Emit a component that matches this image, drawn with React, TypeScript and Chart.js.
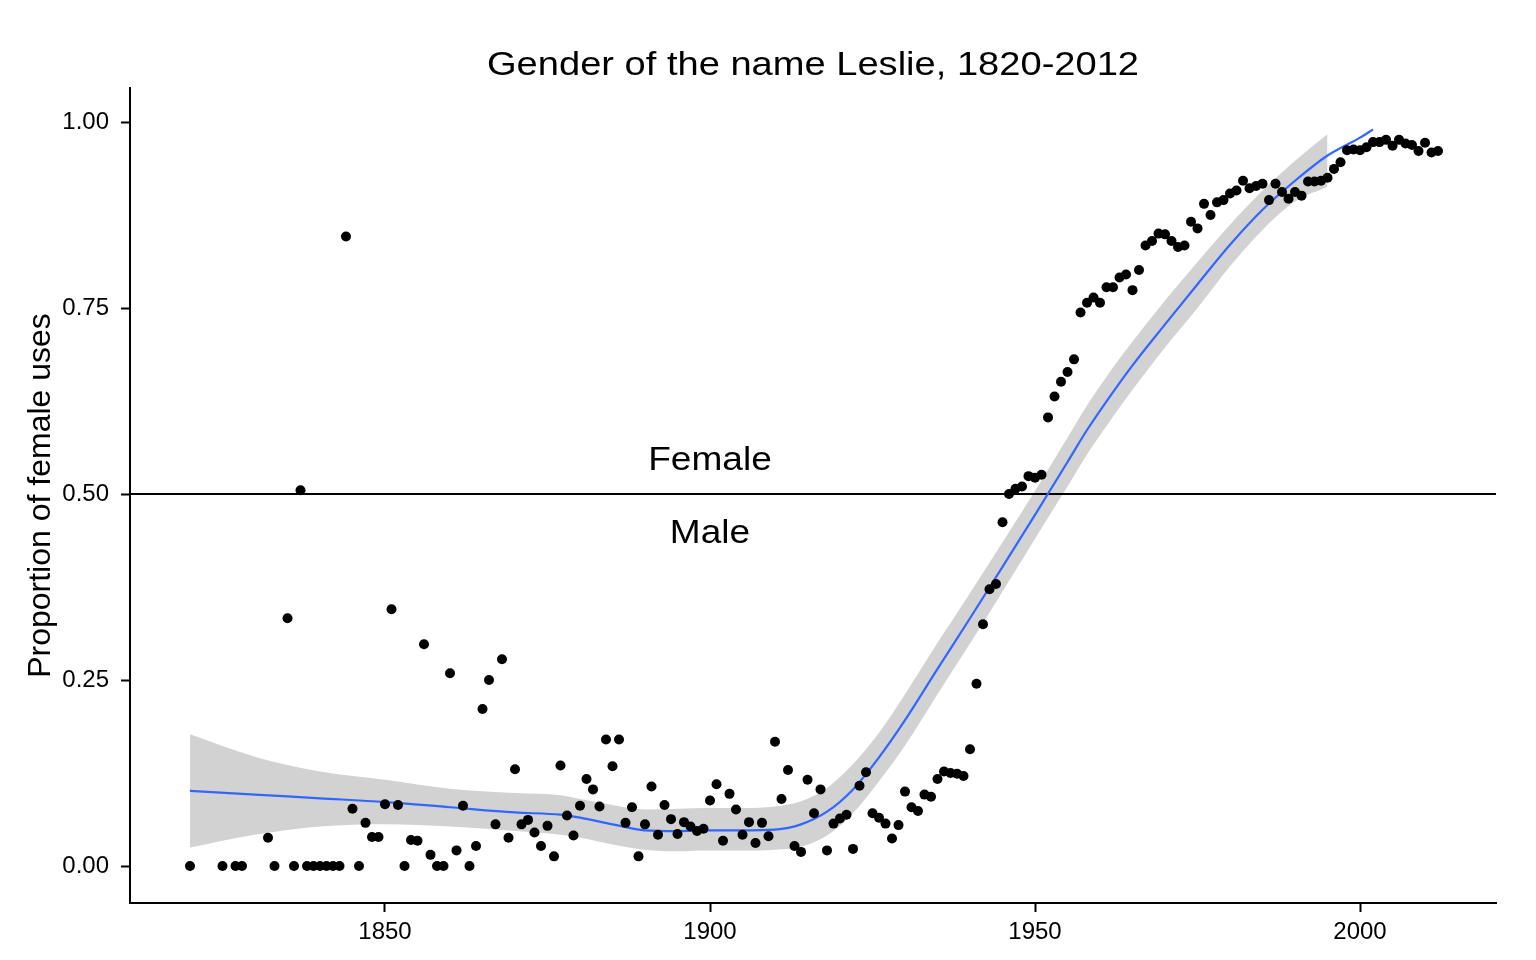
import React, { useEffect, useRef } from "react";
import { Chart, registerables } from "chart.js";

Chart.register(...registerables);

const FONT = '"Liberation Sans", Arial, Helvetica, sans-serif';

const TITLE = "Gender of the name Leslie, 1820-2012";
const Y_LABEL = "Proportion of female uses";

const years = [
  1820, 1825, 1827, 1828, 1832, 1833, 1835, 1836, 1837, 1838, 1839, 1840, 1841, 1842, 1843, 1844, 1845, 1846, 1847, 1848, 1849,
  1850, 1851, 1852, 1853, 1854, 1855, 1856, 1857, 1858, 1859, 1860, 1861, 1862, 1863, 1864, 1865, 1866, 1867, 1868, 1869,
  1870, 1871, 1872, 1873, 1874, 1875, 1876, 1877, 1878, 1879, 1880, 1881, 1882, 1883, 1884, 1885, 1886, 1887, 1888, 1889,
  1890, 1891, 1892, 1893, 1894, 1895, 1896, 1897, 1898, 1899, 1900, 1901, 1902, 1903, 1904, 1905, 1906, 1907, 1908, 1909,
  1910, 1911, 1912, 1913, 1914, 1915, 1916, 1917, 1918, 1919, 1920, 1921, 1922, 1923, 1924, 1925, 1926, 1927, 1928, 1929,
  1930, 1931, 1932, 1933, 1934, 1935, 1936, 1937, 1938, 1939, 1940, 1941, 1942, 1943, 1944, 1945, 1946, 1947, 1948, 1949,
  1950, 1951, 1952, 1953, 1954, 1955, 1956, 1957, 1958, 1959, 1960, 1961, 1962, 1963, 1964, 1965, 1966, 1967, 1968, 1969,
  1970, 1971, 1972, 1973, 1974, 1975, 1976, 1977, 1978, 1979, 1980, 1981, 1982, 1983, 1984, 1985, 1986, 1987, 1988, 1989,
  1990, 1991, 1992, 1993, 1994, 1995, 1996, 1997, 1998, 1999, 2000, 2001, 2002, 2003, 2004, 2005, 2006, 2007, 2008, 2009,
  2010, 2011, 2012,
];

const femaleShare = [
  0, 0, 0, 0, 0.038, 0, 0.333, 0, 0.505, 0, 0, 0, 0, 0, 0, 0.846, 0.077, 0, 0.058, 0.039, 0.039,
  0.083, 0.345, 0.082, 0, 0.035, 0.034, 0.298, 0.015, 0, 0, 0.259, 0.021, 0.081, 0, 0.027, 0.211, 0.25, 0.056, 0.278, 0.038,
  0.13, 0.056, 0.062, 0.045, 0.027, 0.054, 0.013, 0.135, 0.068, 0.041, 0.081, 0.117, 0.103, 0.08, 0.17, 0.134, 0.17, 0.058, 0.079, 0.013,
  0.056, 0.107, 0.042, 0.082, 0.063, 0.043, 0.059, 0.053, 0.047, 0.05, 0.088, 0.11, 0.034, 0.097, 0.076, 0.042, 0.059, 0.031, 0.058, 0.04,
  0.167, 0.09, 0.129, 0.027, 0.019, 0.116, 0.071, 0.103, 0.021, 0.057, 0.064, 0.069, 0.023, 0.108, 0.126, 0.071, 0.065, 0.057, 0.037, 0.055,
  0.1, 0.079, 0.074, 0.096, 0.093, 0.117, 0.127, 0.125, 0.124, 0.121, 0.157, 0.245, 0.325, 0.372, 0.379, 0.462, 0.5, 0.507, 0.51, 0.524,
  0.522, 0.526, 0.603, 0.631, 0.651, 0.664, 0.681, 0.744, 0.757, 0.764, 0.757, 0.778, 0.778, 0.791, 0.795, 0.774, 0.801, 0.834, 0.84, 0.85,
  0.849, 0.84, 0.832, 0.834, 0.866, 0.857, 0.89, 0.875, 0.892, 0.895, 0.904, 0.908, 0.921, 0.911, 0.914, 0.917, 0.895, 0.917, 0.906, 0.897,
  0.906, 0.901, 0.92, 0.92, 0.921, 0.925, 0.937, 0.946, 0.962, 0.963, 0.962, 0.966, 0.973, 0.973, 0.976, 0.968, 0.976, 0.971, 0.969, 0.961,
  0.972, 0.959, 0.961,
];

// loess smooth (fitted line)
const smoothYears = [
  1820, 1830, 1840, 1850, 1860, 1870, 1877, 1880, 1885, 1890, 1895, 1900, 1905, 1910, 1914, 1918, 1922, 1926,
  1930, 1935, 1940, 1945, 1950, 1955, 1958, 1962, 1965, 1970, 1975, 1980, 1985, 1990, 1995, 2000, 2002,
];
const smoothFit = [
  0.101, 0.096, 0.091, 0.086, 0.079, 0.072, 0.069, 0.065, 0.056, 0.048, 0.047, 0.048, 0.048, 0.049, 0.056, 0.073, 0.103, 0.146,
  0.196, 0.265, 0.333, 0.402, 0.472, 0.543, 0.586, 0.637, 0.673, 0.728, 0.782, 0.835, 0.882, 0.921, 0.955, 0.979, 0.99,
];

// confidence band
const bandYears = [
  1820, 1830, 1840, 1850, 1860, 1870, 1877, 1880, 1885, 1890, 1895, 1900, 1905, 1910, 1914, 1918, 1922, 1926,
  1930, 1935, 1940, 1945, 1950, 1955, 1958, 1962, 1965, 1970, 1975, 1980, 1985, 1990, 1995,
];
const bandUpper = [
  0.177, 0.147, 0.127, 0.116, 0.104, 0.098, 0.095, 0.09, 0.082, 0.076, 0.077, 0.078, 0.078, 0.08, 0.087, 0.105, 0.137, 0.179,
  0.231, 0.3, 0.367, 0.435, 0.504, 0.576, 0.619, 0.67, 0.705, 0.76, 0.812, 0.862, 0.908, 0.948, 0.984,
];
const bandLower = [
  0.025, 0.042, 0.053, 0.056, 0.053, 0.047, 0.042, 0.038, 0.029, 0.022, 0.02, 0.021, 0.021, 0.022, 0.026, 0.041, 0.071, 0.114,
  0.162, 0.231, 0.299, 0.369, 0.44, 0.51, 0.553, 0.604, 0.64, 0.697, 0.75, 0.806, 0.855, 0.893, 0.913,
];

const xTicks = [1850, 1900, 1950, 2000];
const yTicks = [0, 0.25, 0.5, 0.75, 1.0];
const xRange = [1810.77, 2020.92];
const yRange = [-0.0497, 1.0457];

const referenceLevel = 0.5;
const annotationLabels = ["Female", "Male"];
const annotationX = [1900, 1900];
const annotationY = [0.548, 0.45];

const zip = (xs: number[], ys: number[]) => xs.map((x, i) => ({ x, y: ys[i] }));

function stretchedText(ctx: CanvasRenderingContext2D, text: string, x: number, y: number, sx: number) {
  ctx.save();
  ctx.translate(x, y);
  ctx.scale(sx, 1);
  ctx.fillText(text, 0, 0);
  ctx.restore();
}

const textPlugin = {
  id: "textPlugin",
  afterDraw(chart: any) {
    const { ctx, chartArea, scales } = chart;
    ctx.save();
    ctx.fillStyle = "#000";
    ctx.textAlign = "center";
    ctx.textBaseline = "alphabetic";
    ctx.font = `34px ${FONT}`;
    stretchedText(ctx, TITLE, (chartArea.left + chartArea.right) / 2, 75, 1.12);
    annotationLabels.forEach((label, i) => {
      const px = scales.x.getPixelForValue(annotationX[i]);
      const py = scales.y.getPixelForValue(annotationY[i]);
      stretchedText(ctx, label, px, py + 0.358 * 34, 1.09);
    });
    ctx.restore();
  },
};

export default function App() {
  const canvasRef = useRef<HTMLCanvasElement | null>(null);

  useEffect(() => {
    const canvas = canvasRef.current;
    if (!canvas) return;
    const chart = new Chart(canvas, {
      type: "line",
      data: {
        datasets: [
          {
            label: "points",
            data: zip(years, femaleShare),
            showLine: false,
            pointRadius: 5,
            pointBackgroundColor: "#000",
            pointBorderWidth: 0,
            borderWidth: 0,
          },
          {
            label: "smooth",
            data: zip(smoothYears, smoothFit),
            borderColor: "#3366FF",
            borderWidth: 2.2,
            pointRadius: 0,
            cubicInterpolationMode: "monotone",
            fill: false,
          },
          {
            label: "ref",
            data: [
              { x: xRange[0], y: referenceLevel },
              { x: xRange[1], y: referenceLevel },
            ],
            borderColor: "#000",
            borderWidth: 2,
            pointRadius: 0,
            fill: false,
          },
          {
            label: "upper",
            data: zip(bandYears, bandUpper),
            borderWidth: 0,
            borderColor: "rgba(0,0,0,0)",
            backgroundColor: "#d2d2d2",
            pointRadius: 0,
            cubicInterpolationMode: "monotone",
            fill: "+1",
          },
          {
            label: "lower",
            data: zip(bandYears, bandLower),
            borderWidth: 0,
            borderColor: "rgba(0,0,0,0)",
            pointRadius: 0,
            cubicInterpolationMode: "monotone",
            fill: false,
          },
        ],
      },
      options: {
        responsive: false,
        animation: false,
        events: [],
        parsing: false as any,
        layout: { padding: { left: 0, top: 88, right: 40, bottom: 0 } },
        plugins: {
          legend: { display: false },
          tooltip: { enabled: false },
          title: { display: false },
        },
        scales: {
          x: {
            type: "linear",
            min: xRange[0],
            max: xRange[1],
            afterFit: (s: any) => {
              s.height = 57;
            },
            afterBuildTicks: (s: any) => {
              s.ticks = xTicks.map((v) => ({ value: v }));
            },
            ticks: {
              autoSkip: false,
              maxRotation: 0,
              padding: 6,
              color: "#000",
              font: { family: FONT, size: 24 },
              callback: (v: any) => String(v),
            },
            grid: {
              display: true,
              drawOnChartArea: false,
              drawTicks: true,
              tickLength: 9,
              tickWidth: 2,
              tickColor: "#000",
            },
            border: { display: true, color: "#000", width: 2 },
          },
          y: {
            type: "linear",
            min: yRange[0],
            max: yRange[1],
            afterFit: (s: any) => {
              s.width = 130;
            },
            afterBuildTicks: (s: any) => {
              s.ticks = yTicks.map((v) => ({ value: v }));
            },
            ticks: {
              autoSkip: false,
              padding: 12,
              color: "#000",
              font: { family: FONT, size: 24 },
              callback: (v: any) => Number(v).toFixed(2),
            },
            grid: {
              display: true,
              drawOnChartArea: false,
              drawTicks: true,
              tickLength: 9,
              tickWidth: 2,
              tickColor: "#000",
            },
            border: { display: true, color: "#000", width: 2 },
            title: {
              display: true,
              text: Y_LABEL,
              color: "#000",
              font: { family: FONT, size: 32 },
              padding: { top: 22, bottom: 0 },
            },
          },
        },
      },
      plugins: [textPlugin],
    });
    return () => chart.destroy();
  }, []);

  return (
    <div style={{ position: "absolute", left: 0, top: 0, width: 1536, height: 960, background: "#fff" }}>
      <canvas ref={canvasRef} width={1536} height={960} />
    </div>
  );
}
